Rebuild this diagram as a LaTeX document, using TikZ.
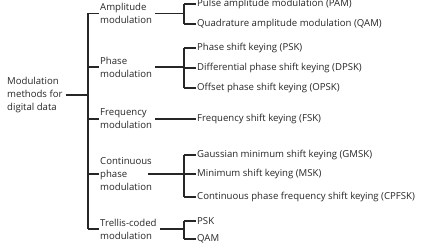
\documentclass[tikz,border=0pt]{standalone}
\usepackage{fontspec}
\setmainfont{Open Sans}
\usetikzlibrary{positioning,calc}

\begin{document}
\begin{tikzpicture}[x=1pt,y=-1pt,
    every node/.style={font=\fontsize{9.6}{13}\selectfont, inner sep=1pt, text=black!85},
    group/.style={anchor=west, align=left},
    leaf/.style={anchor=west},
    link/.style={draw=black!85, line width=1.1pt}]
  \useasboundingbox (0,0) rectangle (424,245);
  % root and trunk
  \node[group] (root) at (6,95) {Modulation\\methods for\\digital data};
  \coordinate (trunk) at (88,95);
  % first level
  \node[group] (am)  at (99,13.5) {Amplitude\\modulation};
  \node[group] (pm)  at (99,67)   {Phase\\modulation};
  \node[group] (fm)  at (99,119)  {Frequency\\modulation};
  \node[group] (cpm) at (99,174)  {Continuous\\phase\\modulation};
  \node[group] (tcm) at (99,229)  {Trellis-coded\\modulation};
  \coordinate (cpm-out) at ($(cpm.west)+(49,0)$);
  % junctions
  \coordinate (jam)  at (184,13.5);
  \coordinate (jpm)  at (184,67);
  \coordinate (jcpm) at (184,174);
  \coordinate (jtcm) at (184,229);
  % leaves
  \node[leaf] (pam)   at (196,4)   {Pulse amplitude modulation (PAM)};
  \node[leaf] (qam)   at (196,24)  {Quadrature amplitude modulation (QAM)};
  \node[leaf] (psk)   at (196,48)  {Phase shift keying (PSK)};
  \node[leaf] (dpsk)  at (196,68)  {Differential phase shift keying (DPSK)};
  \node[leaf] (opsk)  at (196,88)  {Offset phase shift keying (OPSK)};
  \node[leaf] (fsk)   at (196,119) {Frequency shift keying (FSK)};
  \node[leaf] (gmsk)  at (196,155) {Gaussian minimum shift keying (GMSK)};
  \node[leaf] (msk)   at (196,174) {Minimum shift keying (MSK)};
  \node[leaf] (cpfsk) at (196,197) {Continuous phase frequency shift keying (CPFSK)};
  \node[leaf] (tpsk)  at (196,221) {PSK};
  \node[leaf] (tqam)  at (196,239) {QAM};

  % connectors
  \draw[link] (root.east) ++(2,0) -- (trunk);
  \draw[link] (trunk |- am.west) -- (trunk |- tcm.west);
  \foreach \g in {am,pm,fm,cpm,tcm}
    \draw[link] (trunk |- \g.west) -- (\g.west);
  \draw[link] (am.east) ++(2,0) -- (jam);
  \draw[link] (pm.east) ++(2,0) -- (jpm);
  \draw[link] (fm.east) ++(2,0) -- (fsk.west);
  \draw[link] (cpm-out) -- (jcpm);
  \draw[link] ($(tcm.east)+(2,0)$) -- (jtcm);
  \draw[link] (jam |- pam.west) -- (jam |- qam.west);
  \draw[link] (jpm |- psk.west) -- (jpm |- opsk.west);
  \draw[link] (jcpm |- gmsk.west) -- (jcpm |- cpfsk.west);
  \draw[link] (jtcm |- tpsk.west) -- (jtcm |- tqam.west);
  \foreach \l/\j in {pam/jam,qam/jam,psk/jpm,dpsk/jpm,opsk/jpm,gmsk/jcpm,msk/jcpm,cpfsk/jcpm,tpsk/jtcm,tqam/jtcm}
    \draw[link] (\j |- \l.west) -- (\l.west);
\end{tikzpicture}
\end{document}
